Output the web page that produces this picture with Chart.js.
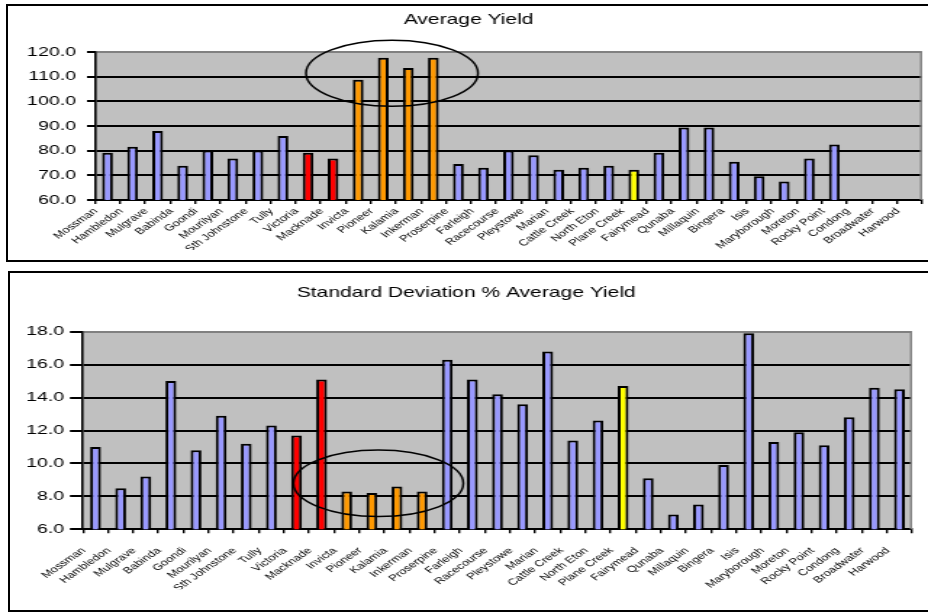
<!DOCTYPE html>
<html>
<head>
<meta charset="utf-8">
<script src="https://cdn.jsdelivr.net/npm/chart.js@4.4.1/dist/chart.umd.min.js"></script>
<style>
  html, body { margin: 0; padding: 0; background: #fff; width: 928px; height: 612px; overflow: hidden; }
  .frame { position: absolute; border: 2px solid #000; box-sizing: border-box; }
  .stretch { position: absolute; left: 0; transform: scaleX(1.45); transform-origin: 0 0; }
  canvas { display: block; }
</style>
</head>
<body>
<div class="frame" style="left:6px;top:4px;width:940px;height:258px"></div>
<div class="frame" style="left:8px;top:271px;width:940px;height:341px"></div>
<div class="stretch" style="top:6px"><canvas id="yieldChart" width="640" height="254"></canvas></div>
<div class="stretch" style="top:273px"><canvas id="sdChart" width="640" height="337"></canvas></div>
<script>
// Sugar mills, north to south
const mills = ['Mossman', 'Hambledon', 'Mulgrave', 'Babinda', 'Goondi', 'Mourilyan', 'Sth Johnstone',
  'Tully', 'Victoria', 'Macknade', 'Invicta', 'Pioneer', 'Kalamia', 'Inkerman', 'Proserpine',
  'Farleigh', 'Racecourse', 'Pleystowe', 'Marian', 'Cattle Creek', 'North Eton', 'Plane Creek',
  'Fairymead', 'Qunaba', 'Millaquin', 'Bingera', 'Isis', 'Maryborough', 'Moreton', 'Rocky Point',
  'Condong', 'Broadwater', 'Harwood'];

// Average cane yield per mill (no figures for the three NSW mills)
const averageYield = [79.2, 81.6, 88.0, 73.9, 80.1, 76.8, 80.1, 85.9, 79.2, 76.8, 108.8, 117.7,
  113.5, 117.7, 74.6, 73.1, 80.1, 78.1, 72.3, 73.1, 73.9, 72.3, 79.2, 89.4, 89.4, 75.5, 69.6,
  67.5, 76.8, 82.5, null, null, null];

// Standard deviation as a percentage of the average yield
const sdPercentYield = [11.0, 8.5, 9.2, 15.0, 10.8, 12.9, 11.2, 12.3, 11.7, 15.1, 8.3, 8.2, 8.6,
  8.3, 16.3, 15.1, 14.2, 13.6, 16.8, 11.4, 12.6, 14.7, 9.1, 6.9, 7.5, 9.9, 17.9, 11.3, 11.9,
  11.1, 12.8, 14.6, 14.5];

const yieldTicks = [60, 70, 80, 90, 100, 110, 120];
const sdTicks = [6, 8, 10, 12, 14, 16, 18];

// Mill groups picked out in colour
const redMills = ['Victoria', 'Macknade'];
const orangeMills = ['Invicta', 'Pioneer', 'Kalamia', 'Inkerman'];
const yellowMills = ['Plane Creek'];

const FONT = "'Liberation Sans', Arial, sans-serif";

function millColour(name) {
  if (redMills.includes(name)) return '#FF0000';
  if (orangeMills.includes(name)) return '#FF9900';
  if (yellowMills.includes(name)) return '#FFFF00';
  return '#9999FF';
}

// Grey plot background and a grey right-hand frame line
const plotFrame = {
  id: 'plotFrame',
  beforeDraw(chart) {
    const { ctx, chartArea: a } = chart;
    ctx.save();
    ctx.fillStyle = '#C0C0C0';
    ctx.fillRect(a.left, a.top, a.right - a.left, a.bottom - a.top);
    ctx.restore();
  },
  afterDatasetsDraw(chart) {
    const { ctx, chartArea: a } = chart;
    ctx.save();
    ctx.strokeStyle = '#808080';
    ctx.lineWidth = 1.4;
    ctx.beginPath();
    ctx.moveTo(a.right - 0.7, a.top);
    ctx.lineTo(a.right - 0.7, a.bottom);
    ctx.stroke();
    ctx.restore();
  }
};

// Hand-drawn style ring around the highlighted group of mills
const ring = {
  id: 'ring',
  afterDraw(chart, args, opts) {
    const { ctx } = chart;
    const xs = chart.scales.x, ys = chart.scales.y;
    const cx = xs.getPixelForValue(opts.centre);
    const rx = xs.getPixelForValue(opts.centre + opts.halfWidth) - cx;
    const cy = ys.getPixelForValue(opts.level);
    const ry = cy - ys.getPixelForValue(opts.level + opts.halfHeight);
    ctx.save();
    ctx.strokeStyle = '#000';
    ctx.lineWidth = 1.5;
    ctx.beginPath();
    ctx.ellipse(cx, cy, rx, ry, 0, 0, Math.PI * 2);
    ctx.stroke();
    ctx.restore();
  }
};

function makeChart(id, cfg) {
  const top = cfg.ticks[cfg.ticks.length - 1];
  return new Chart(document.getElementById(id), {
    type: 'bar',
    data: {
      labels: mills,
      datasets: [{
        data: cfg.values,
        backgroundColor: mills.map(millColour),
        borderColor: '#000',
        borderWidth: 2,
        barPercentage: 0.43,
        categoryPercentage: 1
      }]
    },
    options: {
      responsive: false,
      animation: false,
      devicePixelRatio: 1,
      layout: { padding: cfg.padding },
      plugins: {
        legend: { display: false },
        tooltip: { enabled: false },
        title: {
          display: true,
          text: cfg.title,
          color: '#000',
          font: { family: FONT, size: 14.5, weight: 'normal', lineHeight: 1.2 },
          padding: cfg.titlePadding
        },
        ring: cfg.ring
      },
      scales: {
        x: {
          offset: true,
          grid: { display: true, offset: true, drawOnChartArea: false, drawTicks: true,
                  tickLength: 4, color: '#000', lineWidth: 1.4 },
          border: { display: true, color: '#000', width: 2 },
          ticks: { autoSkip: false, minRotation: 45, maxRotation: 45, padding: cfg.labelPad,
                   labelOffset: -8, color: '#000', font: { family: FONT, size: 9 } },
          afterFit: s => { s.height = cfg.xHeight; }
        },
        y: {
          min: cfg.ticks[0],
          max: top,
          afterBuildTicks: s => { s.ticks = cfg.ticks.map(v => ({ value: v })); },
          grid: {
            color: c => (c.tick && c.tick.value === top) ? '#808080' : '#000',
            tickColor: '#000',
            lineWidth: 2,
            drawTicks: true,
            tickLength: cfg.tickLen
          },
          border: { display: true, color: '#000', width: 1.6 },
          ticks: { padding: cfg.tickPad, color: '#000', font: { family: FONT, size: 13.5 },
                   callback: v => Number(v).toFixed(1) },
          afterFit: s => { s.width = cfg.yWidth; }
        }
      }
    },
    plugins: [plotFrame, ring]
  });
}

makeChart('yieldChart', {
  title: 'Average Yield',
  values: averageYield,
  ticks: yieldTicks,
  padding: { left: 10.5, right: 4.1, top: 0, bottom: 10 },
  titlePadding: { top: 5.3, bottom: 23.3 },
  xHeight: 50, yWidth: 55, tickLen: 5.5, tickPad: 7.6, labelPad: 2,
  ring: { centre: 11.35, halfWidth: 3.43, level: 111.4, halfHeight: 13.4 }
});

makeChart('sdChart', {
  title: 'Standard Deviation % Average Yield',
  values: sdPercentYield,
  ticks: sdTicks,
  padding: { left: 7.2, right: 4.1, top: 0, bottom: 20.7 },
  titlePadding: { top: 10.8, bottom: 30.5 },
  xHeight: 60, yWidth: 50, tickLen: 9, tickPad: 4, labelPad: 12,
  ring: { centre: 11.26, halfWidth: 3.38, level: 8.79, halfHeight: 2.02 }
});
</script>
</body>
</html>
